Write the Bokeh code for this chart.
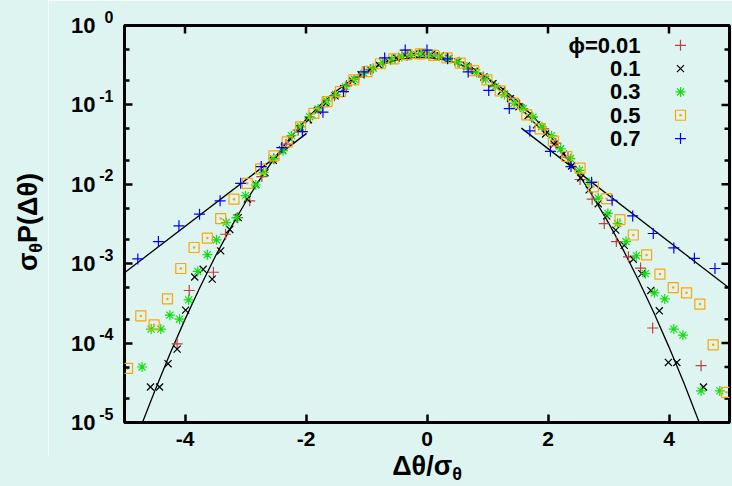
from bokeh.plotting import figure
from bokeh.models import Range1d, LinearScale, FixedTicker, LogAxis, Div
from bokeh.layouts import column, row
from bokeh.core.properties import value
from bokeh.embed import file_html
from bokeh.resources import INLINE

FONT = "Liberation Sans"
BG = "#ddf4f0"

# ---------------- data ----------------
x001 = [-4.13, -3.93, -3.53, -3.33, -3.13, -2.93, -2.73, -2.53, -2.33, -2.13, -1.93, -1.73, -1.53, -1.33,
        -1.13, -0.93, -0.73, -0.53, -0.33, -0.13, 0.13, 0.33, 0.53, 0.73, 0.93, 1.13, 1.33, 1.53, 1.73,
        1.93, 2.13, 2.33, 2.53, 2.73, 2.93, 3.13, 3.33, 3.53, 3.73, 4.53]
y001 = [9.8e-5, 4.6e-4, 7.8e-4, 2.35e-3, 3.8e-3, 6.2e-3, 1.25e-2, 2.1e-2, 3.2e-2, 4.8e-2, 6.8e-2, 9.5e-2,
        0.13, 0.175, 0.225, 0.28, 0.34, 0.385, 0.42, 0.44, 0.425, 0.395, 0.345, 0.285, 0.225, 0.175, 0.13,
        0.1, 0.07, 0.05, 0.033, 0.022, 0.0115, 6.5e-3, 3.2e-3, 1.9e-3, 1.22e-3, 8.8e-4, 1.55e-4, 5.2e-5]

x01 = [-4.57, -4.42, -4.28, -4.13, -3.99, -3.84, -3.70, -3.55, -3.41, -3.26, -3.12, -2.97, -2.83, -2.68,
       -2.54, -2.39, -2.25, -2.10, -1.96, -1.81, -1.67, -1.52, -1.38, -1.23, -1.09, -0.94, -0.80, -0.65,
       -0.51, -0.36, -0.22, -0.07, 0.07, 0.22, 0.36, 0.51, 0.65, 0.80, 0.94, 1.09, 1.23, 1.38, 1.52, 1.67,
       1.81, 1.96, 2.10, 2.25, 2.39, 2.54, 2.68, 2.83, 2.97, 3.12, 3.26, 3.41, 3.55, 3.70, 3.84, 3.99,
       4.13, 4.57]
y01 = [2.8e-5, 2.8e-5, 5.5e-5, 8.4e-5, 2.6e-4, 6.8e-4, 8.5e-4, 6.4e-4, 1.45e-3, 2.7e-3, 3.8e-3, 6.5e-3,
       0.010, 0.014, 0.020, 0.027, 0.037, 0.050, 0.065, 0.085, 0.105, 0.13, 0.16, 0.20, 0.24, 0.28, 0.32,
       0.36, 0.39, 0.42, 0.435, 0.44, 0.43, 0.415, 0.385, 0.35, 0.31, 0.27, 0.225, 0.185, 0.15, 0.12,
       0.095, 0.073, 0.056, 0.043, 0.032, 0.024, 0.017, 0.012, 8.5e-3, 5.7e-3, 4.0e-3, 2.65e-3, 1.7e-3,
       1.14e-3, 7.5e-4, 4.6e-4, 2.55e-4, 5.7e-5, 5.7e-5, 2.8e-5]

x03 = [-4.71, -4.56, -4.40, -4.25, -4.09, -3.94, -3.79, -3.63, -3.48, -3.32, -3.15, -3.00, -2.83, -2.70,
       -2.54, -2.38, -2.24, -2.09, -1.94, -1.80, -1.66, -1.51, -1.35, -1.20, -1.04, -0.89, -0.73, -0.58,
       -0.42, -0.27, -0.11, 0.04, 0.20, 0.35, 0.51, 0.66, 0.82, 0.97, 1.13, 1.28, 1.44, 1.59, 1.75, 1.90,
       2.06, 2.21, 2.37, 2.52, 2.68, 2.83, 2.99, 3.15, 3.29, 3.46, 3.61, 3.76, 3.93, 4.08, 4.23, 4.53, 4.84]
y03 = [5.0e-5, 1.5e-4, 1.5e-4, 2.25e-4, 2.0e-4, 3.5e-4, 8.0e-4, 1.3e-3, 2.0e-3, 3.3e-3, 3.8e-3, 7.2e-3,
       9.8e-3, 0.0141, 0.021, 0.0265, 0.041, 0.053, 0.071, 0.089, 0.112, 0.135, 0.17, 0.21, 0.25, 0.29,
       0.34, 0.375, 0.41, 0.43, 0.44, 0.43, 0.41, 0.385, 0.345, 0.30, 0.255, 0.21, 0.17, 0.135, 0.105,
       0.09, 0.07, 0.053, 0.041, 0.028, 0.021, 0.015, 0.0105, 6.7e-3, 4.3e-3, 3.2e-3, 1.9e-3, 1.26e-3,
       7.5e-4, 4.3e-4, 3.6e-4, 1.5e-4, 1.26e-4, 2.5e-5, 2.5e-5]

x05 = [-4.95, -4.73, -4.51, -4.29, -4.07, -3.85, -3.63, -3.41, -3.19, -2.97, -2.75, -2.53, -2.31, -2.09,
       -1.87, -1.65, -1.43, -1.21, -0.99, -0.77, -0.55, -0.33, -0.11, 0.11, 0.33, 0.55, 0.77, 0.99, 1.21,
       1.43, 1.65, 1.87, 2.09, 2.31, 2.53, 2.75, 2.97, 3.19, 3.41, 3.63, 3.85, 4.07, 4.29, 4.51, 4.73, 4.95]
y05 = [4.8e-5, 2.2e-4, 1.7e-4, 3.6e-4, 8.7e-4, 1.6e-3, 2.1e-3, 3.7e-3, 6.5e-3, 1.03e-2, 1.56e-2, 2.28e-2,
       3.43e-2, 5.3e-2, 7.8e-2, 0.11, 0.147, 0.207, 0.263, 0.33, 0.38, 0.43, 0.44, 0.42, 0.39, 0.335, 0.27,
       0.207, 0.15, 0.105, 0.075, 0.05, 0.035, 0.0224, 0.016, 9.3e-3, 6.6e-3, 3.6e-3, 2.3e-3, 1.29e-3,
       7.4e-4, 5.0e-4, 4.3e-4, 3.1e-4, 9.5e-5, 2.4e-5]

x07 = [-4.78, -4.44, -4.10, -3.76, -3.42, -3.08, -2.74, -2.40, -2.06, -1.72, -1.38, -1.04, -0.70, -0.36,
       0.0, 0.34, 0.68, 1.02, 1.36, 1.70, 2.04, 2.38, 2.72, 3.06, 3.40, 3.74, 4.08, 4.42, 4.76]
y07 = [1.15e-3, 1.9e-3, 3.0e-3, 4.2e-3, 6.2e-3, 0.0103, 0.0167, 0.029, 0.046, 0.081, 0.147, 0.26, 0.39,
       0.49, 0.49, 0.38, 0.26, 0.152, 0.09, 0.047, 0.026, 0.0167, 0.0106, 6.3e-3, 4.0e-3, 2.4e-3, 1.58e-3,
       1.17e-3, 8.7e-4]

# reference curves
xg = [-4.75, -4.5, -4.25, -4.0, -3.75, -3.5, -3.25, -3.0, -2.75, -2.5, -2.25, -2.0, -1.75, -1.5, -1.25,
      -1.0, -0.75, -0.5, -0.25, 0.0, 0.25, 0.5, 0.75, 1.0, 1.25, 1.5, 1.75, 2.0, 2.25, 2.5, 2.75, 3.0,
      3.25, 3.5, 3.75, 4.0, 4.25, 4.5, 4.75]
yg = [8.1e-6, 2.5e-5, 7.3e-5, 1.99e-4, 5.1e-4, 1.23e-3, 2.79e-3, 5.95e-3, 0.0119, 0.0224, 0.0396, 0.0656,
      0.1023, 0.1497, 0.206, 0.266, 0.323, 0.368, 0.395, 0.397, 0.375, 0.333, 0.278, 0.218, 0.160, 0.111,
      0.0721, 0.0440, 0.0252, 0.0136, 6.87e-3, 3.27e-3, 1.46e-3, 6.1e-4, 2.41e-4, 8.9e-5, 3.1e-5, 1.0e-5,
      3.1e-6]
xe_left = [-5.0, -1.99]
ye_left = [7.7e-4, 0.0438]
xe_right = [1.56, 5.0]
ye_right = [0.051, 4.9e-4]

series_labels = ["\u03d5=0.01", "0.1", "0.3", "0.5", "0.7"]
series_colors = ["#c04040", "#000000", "#11dd11", "#ffa500", "#0000ff"]
series_markers = ["cross", "x", "asterisk", "square_dot", "cross"]
series_sizes = [11, 10, 10, 10, 11]
series_x = [x001, x01, x03, x05, x07]
series_y = [y001, y01, y03, y05, y07]

xticks = [-4, -2, 0, 2, 4]
xtick_labels = ["-4", "-2", "0", "2", "4"]
yticks = [1e-5, 1e-4, 1e-3, 1e-2, 1e-1, 1.0]
ytick_base = "10"
ytick_exponents = ["-5", "-4", "-3", "-2", "-1", "0"]
yminor = [2e-5, 5e-5, 2e-4, 5e-4, 2e-3, 5e-3, 2e-2, 5e-2, 2e-1, 5e-1]

x_title_html = "\u0394\u03b8/\u03c3<sub>\u03b8</sub>"
y_title_html = "\u03c3<sub>\u03b8</sub>P(\u0394\u03b8)"

# ---------------- layout sizes ----------------
YT_W = 48          # width of the y-title strip
XT_H = 30          # height of the x-title strip
PW, PH = 732 - YT_W, 486 - XT_H
FRAME_W, FRAME_H = 605, 397

p = figure(width=PW, height=PH, output_backend="svg", toolbar_location=None,
           x_range=Range1d(-5, 5), y_range=Range1d(1e-5, 1), y_axis_type="log",
           min_border_left=124 - YT_W, min_border_right=3, min_border_top=25,
           min_border_bottom=PH - 25 - FRAME_H,
           background_fill_color=BG, border_fill_color=BG)
p.outline_line_color = "black"
p.outline_line_width = 3
p.grid.visible = False

MAJ, MIN, TW = 8, 5, 2.5


def style_axis(ax):
    ax.axis_line_color = None
    ax.major_tick_in = MAJ
    ax.major_tick_out = 0
    ax.minor_tick_in = MIN
    ax.minor_tick_out = 0
    ax.major_tick_line_width = TW
    ax.minor_tick_line_width = TW
    ax.major_label_text_font = FONT
    ax.major_label_text_font_style = "bold"
    ax.major_label_text_color = "black"


xax = p.xaxis[0]
xax.ticker = FixedTicker(ticks=xticks)
xax.major_label_overrides = {t: s for t, s in zip(xticks, xtick_labels)}
xax.major_label_standoff = 9
style_axis(xax)
xax.major_label_text_font_size = "21px"

# inner left axis: ticks + exponents (raised by an empty second line)
yax = p.yaxis[0]
yax.ticker = FixedTicker(ticks=yticks, minor_ticks=yminor)
yax.major_label_overrides = {t: e + "\n" for t, e in zip(yticks, ytick_exponents)}
yax.major_label_standoff = 11
style_axis(yax)
yax.major_label_text_font_size = "16px"
yax.major_label_text_line_height = 1.0

# outer left axis: the "10" bases
ybase = LogAxis(ticker=FixedTicker(ticks=yticks))
style_axis(ybase)
ybase.major_tick_in = 0
ybase.minor_tick_in = 0
ybase.major_label_overrides = {t: ytick_base for t in yticks}
ybase.major_label_standoff = 1
ybase.major_label_text_font_size = "22px"
p.add_layout(ybase, "left")

# frame-fraction coordinates for key and mirrored ticks
p.extra_x_ranges = {"key": Range1d(0, 1)}
p.extra_y_ranges = {"key": Range1d(0, 1)}
p.extra_x_scales = {"key": LinearScale()}
p.extra_y_scales = {"key": LinearScale()}

n = len(xticks)
p.segment(x0=xticks, x1=xticks, y0=[1.0] * n, y1=[1.0 - MAJ / FRAME_H] * n, y_range_name="key",
          line_color="black", line_width=TW)
m = len(yticks)
p.segment(x0=[1.0] * m, x1=[1.0 - MAJ / FRAME_W] * m, y0=yticks, y1=yticks, x_range_name="key",
          line_color="black", line_width=TW)
k = len(yminor)
p.segment(x0=[1.0] * k, x1=[1.0 - MIN / FRAME_W] * k, y0=yminor, y1=yminor, x_range_name="key",
          line_color="black", line_width=TW)

# curves
p.line(xg, yg, line_color="black", line_width=1.3)
p.line(xe_left, ye_left, line_color="black", line_width=1.3)
p.line(xe_right, ye_right, line_color="black", line_width=1.3)

for xs, ys, c, mk, sz in zip(series_x, series_y, series_colors, series_markers, series_sizes):
    p.scatter(xs, ys, marker=mk, size=sz, line_color=c, fill_color=None, line_width=1.2)

key_text_x = 0.853
key_mark_x = 0.919
key_top = 0.950
key_step = 0.0587
for i, (lab, c, mk, sz) in enumerate(zip(series_labels, series_colors, series_markers, series_sizes)):
    ky = key_top - i * key_step
    p.text(x=[key_text_x], y=[ky], text=[lab], x_range_name="key", y_range_name="key",
           text_align="right", text_baseline="middle", text_font=value(FONT),
           text_font_style="bold", text_font_size="22px", text_color="black")
    p.scatter(x=[key_mark_x], y=[ky], marker=mk, size=sz, line_color=c, fill_color=None,
              line_width=1.2, x_range_name="key", y_range_name="key")

# ---------------- axis titles as HTML (for the subscripts) ----------------
title_css = ("white-space:nowrap;font-family:'Liberation Sans';font-weight:bold;font-size:27px;"
             "line-height:27px;color:black;")
sub_css = "font-size:18px;line-height:0;vertical-align:-5px;"
y_div = Div(width=YT_W, height=PH, margin=0, styles={"background-color": BG},
            text=(f"<div style='position:relative;width:{YT_W}px;height:{PH}px;'>"
                  f"<div style=\"position:absolute;left:28px;top:222px;"
                  f"transform:translate(-50%,-50%) rotate(-90deg);{title_css}\">"
                  + y_title_html.replace("<sub>", f"<sub style='{sub_css}'>") + "</div></div>"))
x_div = Div(width=732, height=XT_H, margin=0, styles={"background-color": BG},
            text=(f"<div style='position:relative;width:732px;height:{XT_H}px;'>"
                  f"<div style=\"position:absolute;left:427px;top:-3px;transform:translateX(-50%);{title_css}\">"
                  + x_title_html.replace("<sub>", f"<sub style='{sub_css}'>") + "</div></div>"))

layout = column(row(y_div, p, spacing=0), x_div, spacing=0)
open("out.html", "w").write(file_html(layout, INLINE))
